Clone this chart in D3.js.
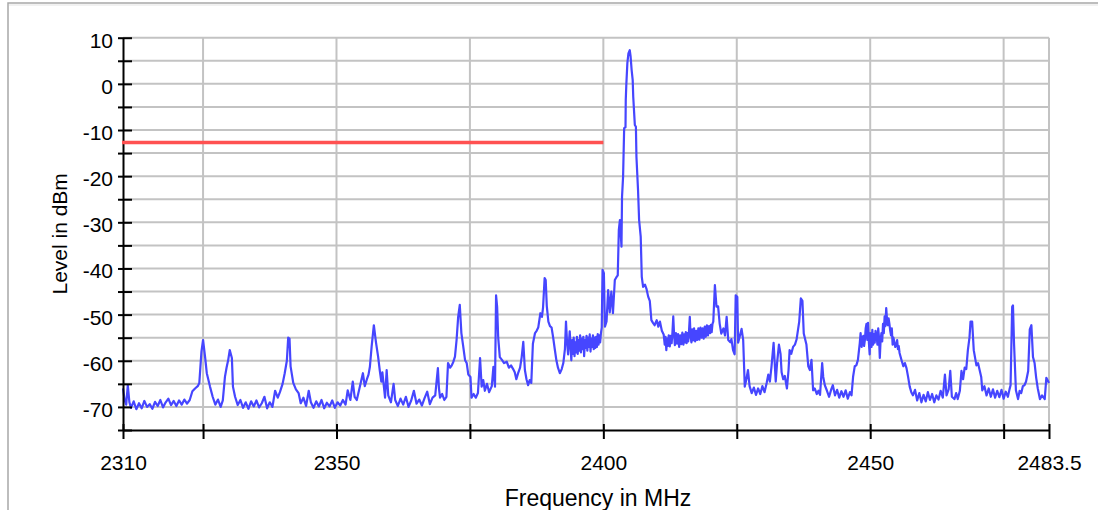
<!DOCTYPE html>
<html>
  <head>
    <meta charset="utf-8">
    <script src="https://cdn.jsdelivr.net/npm/d3@7"></script>
    <style>
      body { margin: 0; background: #fff; }
      svg { display: block; font-family: "Liberation Sans", Arial, sans-serif; }
    </style>
  </head>
  <body>
    <svg id="spectrum" width="1098" height="510"></svg>
    <script>
    // measured trace, [MHz, dBm]
    var spectrum = [
      [2310.0,-66.0],[2310.3,-68.5],[2310.6,-69.5],[2310.9,-65.3],[2311.2,-69.0],[2311.5,-70.2],
      [2312.0,-68.8],[2312.5,-70.5],[2313.0,-69.2],[2313.5,-70.3],[2314.0,-68.7],[2314.5,-70.0],
      [2315.0,-69.4],[2315.5,-70.4],[2316.0,-68.9],[2316.5,-69.8],[2317.0,-68.5],[2317.5,-70.1],
      [2318.0,-69.0],[2318.5,-68.2],[2319.0,-69.6],[2319.5,-68.7],[2320.0,-69.8],[2320.5,-68.6],
      [2321.0,-69.5],[2321.5,-68.4],[2322.0,-69.3],[2322.5,-68.5],[2323.0,-66.6],[2323.5,-66.0],
      [2324.0,-65.5],[2324.3,-64.8],[2324.7,-58.0],[2325.0,-55.5],[2325.4,-59.4],[2325.7,-62.7],
      [2326.3,-65.6],[2326.8,-67.8],[2327.3,-69.5],[2327.8,-68.4],[2328.3,-70.0],[2328.7,-68.6],
      [2329.1,-63.5],[2329.4,-61.5],[2329.7,-59.9],[2330.0,-57.7],[2330.4,-59.4],[2330.6,-65.6],
      [2331.0,-67.8],[2331.5,-69.6],[2332.0,-68.5],[2332.5,-70.2],[2333.0,-69.0],[2333.5,-70.4],
      [2334.0,-68.8],[2334.5,-69.9],[2335.0,-68.6],[2335.5,-70.1],[2336.0,-69.2],[2336.5,-67.8],
      [2337.0,-70.3],[2337.5,-69.0],[2338.0,-70.0],[2338.5,-66.5],[2339.0,-68.0],[2339.4,-66.8],
      [2339.9,-65.0],[2340.3,-62.7],[2340.7,-60.0],[2340.95,-55.0],[2341.2,-55.2],[2341.4,-61.2],
      [2341.9,-64.8],[2342.4,-66.2],[2342.9,-67.0],[2343.3,-69.2],[2343.8,-68.0],[2344.3,-69.8],
      [2344.8,-66.5],[2345.2,-69.0],[2345.7,-70.2],[2346.2,-68.8],[2346.7,-69.9],[2347.2,-68.5],
      [2347.7,-70.3],[2348.2,-69.1],[2348.7,-69.9],[2349.2,-68.6],[2349.7,-70.2],[2350.2,-69.0],
      [2350.7,-69.7],[2351.2,-68.5],[2351.7,-69.5],[2352.1,-66.4],[2352.6,-68.5],[2353.05,-64.5],
      [2353.4,-67.8],[2353.8,-68.5],[2354.3,-66.0],[2354.95,-62.7],[2355.3,-65.5],[2355.7,-64.0],
      [2356.0,-63.0],[2356.26,-61.3],[2356.58,-57.0],[2357.0,-52.3],[2357.4,-56.0],[2357.8,-59.1],
      [2358.1,-62.0],[2358.4,-64.5],[2358.6,-62.5],[2359.1,-68.0],[2359.4,-62.0],[2359.7,-67.5],
      [2360.2,-69.0],[2360.7,-65.0],[2361.0,-68.5],[2361.5,-69.8],[2362.0,-68.2],[2362.5,-69.5],
      [2363.0,-67.8],[2363.5,-70.0],[2364.0,-68.6],[2364.5,-66.5],[2365.0,-69.3],[2365.5,-68.4],
      [2366.0,-69.7],[2366.5,-68.1],[2367.0,-66.7],[2367.5,-69.4],[2368.0,-68.0],[2368.5,-67.5],
      [2369.0,-61.6],[2369.2,-66.0],[2369.4,-68.0],[2369.8,-67.2],[2370.2,-68.5],[2370.6,-67.8],
      [2370.9,-60.5],[2371.3,-61.5],[2371.6,-61.0],[2371.9,-60.2],[2372.2,-59.1],[2372.5,-55.5],
      [2372.8,-50.5],[2373.1,-47.9],[2373.4,-54.0],[2373.7,-56.5],[2374.1,-59.9],[2374.4,-60.5],
      [2374.7,-63.0],[2375.1,-63.5],[2375.3,-68.0],[2375.7,-67.2],[2376.1,-68.0],[2376.5,-67.0],
      [2376.9,-59.4],[2377.2,-65.6],[2377.5,-64.2],[2377.8,-66.5],[2378.2,-65.0],[2378.6,-66.8],
      [2379.1,-65.5],[2379.4,-61.3],[2379.7,-65.6],[2379.9,-45.8],[2380.1,-48.3],[2380.3,-55.0],
      [2380.6,-59.2],[2381.0,-59.8],[2381.4,-60.5],[2381.9,-60.2],[2382.3,-61.5],[2382.7,-61.0],
      [2383.1,-61.8],[2383.4,-62.5],[2383.7,-64.0],[2384.0,-62.8],[2384.4,-61.5],[2384.7,-59.2],
      [2385.0,-55.9],[2385.3,-62.0],[2385.6,-64.0],[2385.9,-65.3],[2386.2,-64.2],[2386.5,-64.8],
      [2386.8,-56.3],[2387.2,-54.0],[2387.5,-53.5],[2387.8,-52.8],[2388.2,-49.7],[2388.5,-50.5],
      [2388.7,-48.5],[2389.0,-42.1],[2389.2,-42.5],[2389.4,-48.1],[2389.7,-51.5],[2390.0,-52.5],
      [2390.3,-52.8],[2390.6,-55.0],[2390.9,-57.5],[2391.2,-59.9],[2391.5,-61.5],[2391.85,-62.7],
      [2392.2,-61.8],[2392.5,-60.5],[2392.8,-57.5],[2393.0,-51.5],[2393.2,-56.0],[2393.4,-58.6],
      [2393.7,-53.6],[2394.0,-59.9],[2394.15,-55.5],[2394.3,-58.5],[2394.45,-55.0],[2394.6,-59.0],
      [2394.75,-56.0],[2394.9,-58.2],[2395.05,-54.8],[2395.2,-58.5],[2395.35,-55.5],[2395.5,-57.8],
      [2395.65,-54.5],[2395.8,-58.2],[2395.95,-55.2],[2396.1,-57.5],[2396.25,-54.8],[2396.4,-59.0],
      [2396.55,-55.5],[2396.7,-57.2],[2396.85,-54.6],[2397.0,-57.8],[2397.15,-55.0],[2397.3,-57.0],
      [2397.45,-54.3],[2397.6,-58.0],[2397.75,-55.2],[2397.9,-57.0],[2398.05,-54.5],[2398.2,-57.5],
      [2398.35,-55.0],[2398.5,-57.2],[2398.65,-54.8],[2398.8,-57.0],[2398.95,-54.2],[2399.1,-56.5],
      [2399.25,-54.5],[2399.4,-56.0],[2399.55,-54.0],[2399.7,-52.8],[2399.85,-40.3],[2400.1,-41.0],
      [2400.3,-52.6],[2400.6,-51.5],[2400.9,-44.7],[2401.2,-49.5],[2401.5,-45.0],[2401.8,-49.7],
      [2402.15,-42.5],[2402.5,-41.8],[2402.7,-41.5],[2402.9,-31.7],[2403.1,-29.5],[2403.4,-35.3],
      [2403.5,-24.5],[2403.7,-20.1],[2403.9,-9.6],[2404.15,-9.4],[2404.2,-3.5],[2404.3,-0.3],
      [2404.5,4.5],[2404.7,6.6],[2404.95,7.3],[2405.1,6.0],[2405.3,3.0],[2405.5,0.8],
      [2405.6,-2.8],[2405.9,-8.9],[2406.1,-9.3],[2406.2,-15.8],[2406.5,-23.0],[2406.7,-29.5],
      [2407.0,-33.1],[2407.2,-41.8],[2407.45,-44.0],[2407.8,-43.5],[2408.1,-44.5],[2408.4,-46.1],
      [2408.7,-47.0],[2409.0,-51.2],[2409.3,-51.8],[2409.6,-52.3],[2410.0,-51.2],[2410.3,-52.6],
      [2410.6,-51.5],[2410.96,-53.5],[2411.3,-54.3],[2411.5,-56.5],[2411.65,-54.8],[2411.8,-57.7],
      [2411.95,-55.2],[2412.1,-56.8],[2412.25,-54.5],[2412.45,-56.9],[2412.6,-54.6],[2412.8,-56.2],
      [2412.95,-53.8],[2413.1,-50.4],[2413.25,-54.2],[2413.4,-56.6],[2413.6,-54.0],[2413.8,-56.3],
      [2414.0,-54.2],[2414.2,-57.0],[2414.4,-54.5],[2414.6,-56.4],[2414.8,-53.9],[2415.0,-56.5],
      [2415.15,-54.3],[2415.3,-56.0],[2415.45,-53.8],[2415.6,-56.2],[2415.75,-54.0],[2415.9,-55.8],
      [2416.05,-53.5],[2416.2,-50.5],[2416.35,-54.8],[2416.5,-56.0],[2416.65,-53.2],[2416.8,-55.6],
      [2417.0,-53.0],[2417.2,-55.8],[2417.4,-53.5],[2417.6,-55.5],[2417.8,-53.0],[2418.0,-55.4],
      [2418.2,-52.8],[2418.4,-55.0],[2418.6,-53.0],[2418.8,-55.2],[2419.0,-52.6],[2419.2,-54.8],
      [2419.4,-52.3],[2419.6,-54.5],[2419.8,-52.5],[2420.0,-54.0],[2420.15,-52.2],[2420.3,-53.8],
      [2420.45,-52.0],[2420.6,-51.5],[2420.9,-43.6],[2421.2,-48.3],[2421.5,-48.2],[2421.8,-52.0],
      [2422.1,-54.1],[2422.5,-53.0],[2422.8,-54.5],[2423.1,-50.5],[2423.4,-55.5],[2423.8,-56.0],
      [2424.0,-55.3],[2424.3,-57.7],[2424.6,-58.6],[2424.8,-45.8],[2425.1,-46.2],[2425.25,-56.1],
      [2425.6,-54.5],[2425.9,-53.1],[2426.2,-55.5],[2426.5,-65.6],[2426.8,-64.0],[2427.1,-62.0],
      [2427.4,-65.5],[2427.8,-67.0],[2428.2,-65.8],[2428.6,-67.4],[2429.0,-66.0],[2429.4,-67.2],
      [2429.8,-65.5],[2430.2,-66.8],[2430.6,-64.8],[2430.9,-63.0],[2431.2,-64.5],[2431.5,-61.3],
      [2431.9,-56.1],[2432.3,-64.5],[2432.55,-60.5],[2432.9,-56.5],[2433.2,-58.5],[2433.4,-62.5],
      [2433.7,-64.0],[2434.0,-63.3],[2434.4,-66.0],[2434.7,-62.0],[2434.9,-57.7],[2435.2,-58.5],
      [2435.55,-57.0],[2435.9,-56.5],[2436.2,-55.4],[2436.7,-51.5],[2437.0,-46.5],[2437.3,-47.0],
      [2437.55,-54.1],[2438.05,-56.5],[2438.4,-61.2],[2438.7,-62.0],[2439.0,-59.8],[2439.3,-66.4],
      [2439.6,-66.0],[2440.0,-67.2],[2440.3,-66.5],[2440.6,-67.4],[2441.0,-60.5],[2441.2,-63.5],
      [2441.5,-65.3],[2441.9,-66.5],[2442.3,-67.8],[2442.7,-66.2],[2443.0,-65.3],[2443.4,-67.5],
      [2443.8,-66.3],[2444.2,-68.0],[2444.6,-66.6],[2445.0,-67.8],[2445.4,-66.4],[2445.8,-68.2],
      [2446.2,-66.8],[2446.5,-67.5],[2446.8,-63.4],[2447.1,-61.2],[2447.4,-61.0],[2447.7,-59.8],
      [2448.05,-56.1],[2448.2,-54.0],[2448.4,-57.0],[2448.55,-55.0],[2448.7,-54.6],[2448.85,-56.8],
      [2449.0,-55.5],[2449.15,-53.0],[2449.3,-52.0],[2449.45,-55.5],[2449.6,-51.8],[2449.75,-56.0],
      [2449.9,-58.6],[2450.0,-54.0],[2450.1,-55.0],[2450.25,-57.0],[2450.4,-53.3],[2450.55,-56.5],
      [2450.7,-54.2],[2450.85,-56.1],[2451.0,-53.5],[2451.2,-54.5],[2451.35,-56.5],[2451.5,-53.0],
      [2451.65,-55.0],[2451.8,-59.4],[2451.95,-55.5],[2452.1,-54.0],[2452.25,-55.8],[2452.4,-52.0],
      [2452.55,-54.0],[2452.7,-50.4],[2452.85,-52.5],[2453.0,-48.6],[2453.15,-51.0],[2453.3,-52.3],
      [2453.45,-50.8],[2453.6,-52.0],[2453.75,-53.5],[2453.9,-54.5],[2454.05,-53.0],[2454.2,-56.5],
      [2454.35,-55.0],[2454.5,-55.8],[2454.7,-57.0],[2454.9,-56.5],[2455.05,-55.5],[2455.2,-57.5],
      [2455.35,-56.8],[2455.5,-58.3],[2455.9,-60.0],[2456.2,-61.2],[2456.5,-60.5],[2456.8,-61.6],
      [2457.1,-63.5],[2457.4,-65.6],[2457.7,-66.8],[2458.0,-67.5],[2458.4,-66.3],[2458.8,-68.6],
      [2459.2,-67.0],[2459.6,-69.0],[2460.0,-67.4],[2460.4,-68.8],[2460.8,-66.8],[2461.2,-68.5],
      [2461.6,-67.2],[2462.0,-69.0],[2462.4,-67.5],[2462.8,-68.4],[2463.2,-66.5],[2463.6,-68.0],
      [2464.0,-63.0],[2464.3,-67.5],[2464.7,-66.2],[2465.0,-62.2],[2465.3,-67.8],[2465.8,-68.3],
      [2466.1,-67.0],[2466.4,-68.3],[2466.8,-66.5],[2467.1,-62.2],[2467.4,-64.0],[2467.7,-61.5],
      [2468.0,-61.8],[2468.3,-57.7],[2468.6,-55.0],[2468.8,-51.5],[2469.1,-51.5],[2469.4,-57.7],
      [2469.9,-61.0],[2470.2,-60.5],[2470.5,-62.0],[2470.8,-63.5],[2471.0,-66.4],[2471.4,-65.5],
      [2471.8,-67.5],[2472.2,-66.0],[2472.6,-67.8],[2473.0,-66.2],[2473.4,-68.0],[2473.8,-66.5],
      [2474.2,-67.9],[2474.6,-66.3],[2475.0,-68.2],[2475.4,-66.7],[2475.8,-67.8],[2476.1,-66.2],
      [2476.3,-65.3],[2476.6,-48.3],[2476.75,-48.0],[2476.95,-56.3],[2477.3,-66.4],[2477.7,-68.3],
      [2478.0,-66.5],[2478.3,-67.0],[2478.6,-65.5],[2478.9,-65.3],[2479.2,-64.5],[2479.6,-62.2],
      [2479.9,-53.2],[2480.2,-52.3],[2480.5,-59.2],[2480.8,-60.5],[2481.1,-63.7],[2481.4,-66.0],
      [2481.8,-68.3],[2482.2,-67.5],[2482.7,-68.3],[2483.0,-63.7],[2483.5,-64.8]
    ];

    var limitFreq = [2310, 2400];
    var limitLevel = -12.7;

    var xTicks = [2310, 2325, 2350, 2375, 2400, 2425, 2450, 2475, 2483.5];
    var xLabelled = [2310, 2350, 2400, 2450, 2483.5];
    var yTicks = [-75, -70, -65, -60, -55, -50, -45, -40, -35, -30, -25, -20, -15, -10, -5, 0, 5, 10];
    var yLabelled = [-70, -60, -50, -40, -30, -20, -10, 0, 10];

    var svg = d3.select("#spectrum");

    var x = d3.scaleLinear().domain([2310, 2483.5]).range([123, 1049]);
    var y = d3.scaleLinear().domain([-75, 10]).range([430, 37.7]);

    // outer frame
    svg.append("rect")
      .attr("x", 8).attr("y", 3).attr("width", 1200).attr("height", 600)
      .attr("fill", "none").attr("stroke", "#a8a8a8").attr("stroke-width", 1.5);
    svg.append("line")
      .attr("x1", 9).attr("x2", 1098).attr("y1", 5).attr("y2", 5)
      .attr("stroke", "#ececec").attr("stroke-width", 1.5);

    // grid
    var grid = svg.append("g").attr("stroke", "#c3c3c3").attr("stroke-width", 2);
    grid.selectAll("line.h")
      .data(yTicks.filter(function(d){ return d > -75; }))
      .enter().append("line")
      .attr("x1", x(2310)).attr("x2", x(2483.5))
      .attr("y1", function(d){ return y(d); }).attr("y2", function(d){ return y(d); });
    grid.selectAll("line.v")
      .data(xTicks.filter(function(d){ return d > 2310; }))
      .enter().append("line")
      .attr("y1", y(-75)).attr("y2", y(10))
      .attr("x1", function(d){ return x(d); }).attr("x2", function(d){ return x(d); });

    // trace
    svg.append("path")
      .datum(spectrum)
      .attr("fill", "none")
      .attr("stroke", "#4646ff")
      .attr("stroke-width", 2.2)
      .attr("stroke-linejoin", "round")
      .attr("d", d3.line()
        .x(function(d){ return x(d[0]); })
        .y(function(d){ return y(d[1]); }));

    // axes
    var yAxis = svg.append("g")
      .attr("transform", "translate(" + x(2310) + ",0)")
      .call(d3.axisLeft(y)
        .tickValues(yTicks)
        .tickSizeInner(-9).tickSizeOuter(0).tickPadding(10)
        .tickFormat(function(d){ return yLabelled.indexOf(d) >= 0 ? d : ""; }));
    yAxis.selectAll(".tick line").attr("x1", -5).attr("x2", 9);
    yAxis.selectAll(".tick text").attr("dy", "0.45em");

    var xAxis = svg.append("g")
      .attr("transform", "translate(0," + y(-75) + ")")
      .call(d3.axisBottom(x)
        .tickValues(xTicks)
        .tickSizeInner(9).tickSizeOuter(0).tickPadding(16)
        .tickFormat(function(d){ return xLabelled.indexOf(d) >= 0 ? d : ""; }));
    xAxis.selectAll(".tick line").attr("y1", -6).attr("y2", 9);

    [yAxis, xAxis].forEach(function(a){
      a.attr("font-family", null).attr("font-size", 21);
      a.selectAll("line, path").attr("stroke", "#000").attr("stroke-width", 2);
      a.selectAll("text").attr("fill", "#000");
    });

    // limit line
    svg.append("line")
      .attr("x1", x(limitFreq[0]) - 1).attr("x2", x(limitFreq[1]))
      .attr("y1", y(limitLevel)).attr("y2", y(limitLevel))
      .attr("stroke", "#ff5151").attr("stroke-width", 3.5);

    // titles
    svg.append("text")
      .attr("transform", "translate(66.5," + ((y(-75) + y(10)) / 2) + ") rotate(-90)")
      .attr("text-anchor", "middle")
      .attr("font-size", 21)
      .text("Level in dBm");

    svg.append("text")
      .attr("x", 598).attr("y", 506)
      .attr("text-anchor", "middle")
      .attr("font-size", 23)
      .text("Frequency in MHz");
    </script>
  </body>
</html>
